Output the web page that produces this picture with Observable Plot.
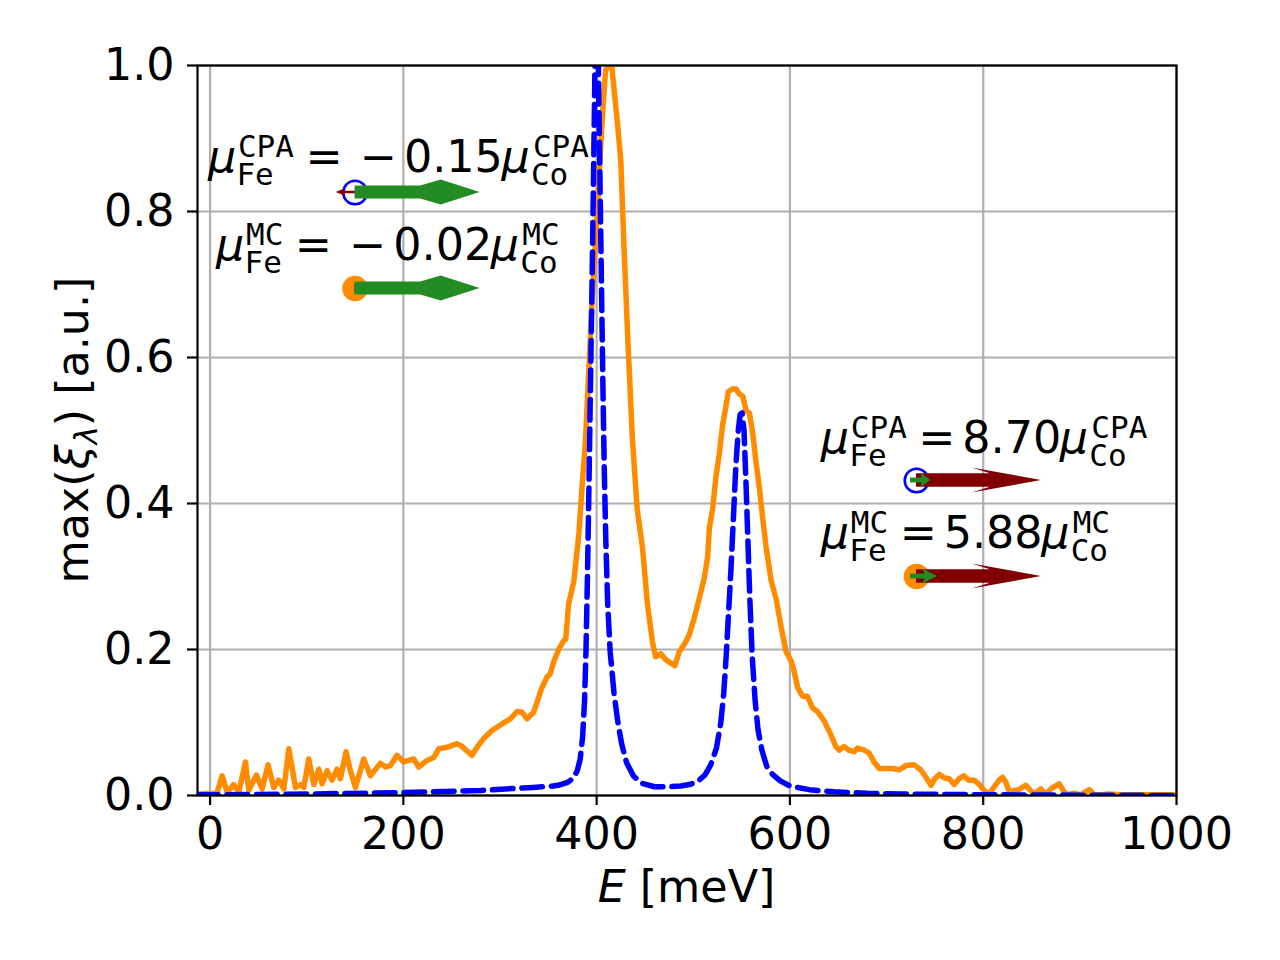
<!DOCTYPE html>
<html><head><meta charset="utf-8">
<script src="https://cdn.jsdelivr.net/npm/d3@7"></script>
<script src="https://cdn.jsdelivr.net/npm/@observablehq/plot@0.6"></script>
<style>html,body{margin:0;padding:0;background:#fff;} svg{display:block}</style>
</head><body><div id="chart"></div>
<script>
// ---- data ----
const energyMC = [-13,-10,7,12.5,17.7,24.5,29.7,36.6,40.1,48,53.9,60,65.9,71.1,76.3,81.5,88.4,93.5,97,102.1,107.3,112.5,115.9,121.1,126.3,131.4,134.9,140.7,145.2,150.4,159,165.9,176.3,181.5,186.6,193.5,200.4,205.5,210.7,215.9,224.5,231.4,236.6,245.2,255.5,260,265.9,271,276.2,283.1,291.7,302.1,310.7,317.6,322.8,328,334.8,338.3,343.5,348.6,352.1,355.5,360.7,365.9,368,371,376.5,381.7,385,388.6,392,395.5,399,402.4,405.9,409.3,412.8,415.6,418,421.5,425,428.4,432.5,437,442,447.4,452.6,457.8,461,466.4,471.6,476,481,485.5,490.7,495.8,501,506,511.4,514.9,516.6,520,523.5,527,530.4,533.9,536.3,540.8,544.3,547.7,551.2,554.7,558.1,561.6,565,568.5,571.9,575.4,580.6,585.8,591,596,601.4,604.5,608,613,618,623.4,628.6,635.5,642.4,647.6,651,656.2,661,666.6,670,677,682,687,692.4,701,707,713,720,728.6,735.5,740.7,746,750,754.5,760,764.8,770,775,780,785,790.7,796,801,806,811,816.5,820,823.5,827,832,837,844,849,852.8,859.6,864.6,870,878.6,883.7,887,894,901,909.7,914.8,922,930,942,956,1000];
const xiMC = [0.002,0.002,0.003,0.027,0.004,0.015,0.004,0.046,0.007,0.028,0.009,0.042,0.011,0.021,0.009,0.064,0.011,0.015,0.011,0.050,0.015,0.036,0.016,0.034,0.021,0.036,0.023,0.060,0.034,0.011,0.050,0.027,0.044,0.039,0.041,0.055,0.046,0.048,0.050,0.039,0.048,0.052,0.064,0.066,0.071,0.068,0.061,0.055,0.066,0.078,0.089,0.098,0.105,0.115,0.114,0.105,0.114,0.128,0.148,0.162,0.167,0.183,0.200,0.212,0.214,0.262,0.294,0.36,0.424,0.489,0.586,0.683,0.76,0.845,0.929,0.994,1.0,1.0,0.968,0.922,0.87,0.748,0.618,0.489,0.392,0.34,0.262,0.21,0.19,0.194,0.186,0.182,0.178,0.197,0.207,0.22,0.243,0.269,0.298,0.327,0.366,0.392,0.437,0.469,0.508,0.534,0.553,0.557,0.557,0.55,0.547,0.527,0.524,0.495,0.456,0.42,0.379,0.34,0.294,0.269,0.23,0.197,0.184,0.169,0.148,0.136,0.136,0.12,0.115,0.102,0.083,0.067,0.062,0.067,0.062,0.060,0.065,0.062,0.058,0.046,0.037,0.037,0.037,0.035,0.041,0.042,0.035,0.025,0.014,0.023,0.029,0.024,0.023,0.015,0.023,0.027,0.021,0.021,0.015,0.007,0.002,0.011,0.021,0.025,0.018,0.005,0.007,0.008,0.014,0.007,0.002,0.009,0.002,0.009,0.016,0.005,0.001,0.003,0.001,0.008,0.001,0.001,0.002,0.001,0.001,0.001];

const energyCPA = [-13,0,100,200,280,334,352,360,370,376,380,383,385.5,387.5,389,390.5,392,393.5,395,396.5,398,400,402,403.5,405,406.5,408,409.5,411.5,414,418,422,426,431,438,446,460,475,487,496,504.5,512,518,524,528.5,531.5,534,536.5,539,541.5,544,546.5,548.5,550.5,552.5,554.5,556.5,558.5,561,564,567,571,576,582,590,600,620,646,680,715,800,900,1000];
const xiCPA = [0.001,0.001,0.002,0.004,0.007,0.011,0.0125,0.014,0.018,0.024,0.034,0.05,0.08,0.13,0.2,0.3,0.42,0.55,0.68,0.82,0.97,1.25,0.98,0.84,0.7,0.56,0.44,0.35,0.26,0.197,0.14,0.1,0.07,0.045,0.027,0.017,0.012,0.012,0.013,0.015,0.019,0.028,0.042,0.065,0.1,0.14,0.19,0.25,0.31,0.38,0.45,0.5,0.522,0.524,0.5,0.43,0.35,0.27,0.19,0.13,0.09,0.062,0.04,0.029,0.02,0.013,0.008,0.005,0.003,0.002,0.001,0.0005,0];

const xTicks = [0,200,400,600,800,1000];
const yTicks = [0,0.2,0.4,0.6,0.8,1.0];

// moment annotations
const momentMethod = ["CPA","MC","CPA","MC"];
const momentRatio = [-0.15,-0.02,8.70,5.88];   // mu_Fe / mu_Co
const markerE = [150,150,731,731];
const markerXi = [0.826,0.6945,0.4315,0.300];
const labelE = [0.4,8.7,634.6,634.6];
const labelXi = [0.8541,0.7335,0.4685,0.3384];

// ---- styles ----
const ORANGE = "#ff8c00", BLUE = "#0000ff", GREEN = "#228b22", MAROON = "#800000";
const FS = 44.4, SFS = 31, LW = 5.5;

const mcTable = energyMC.map((e,i)=>({E:e, xi:xiMC[i]}));
const cpaTable = energyCPA.map((e,i)=>({E:e, xi:xiCPA[i]}));
const markers = markerE.map((e,i)=>({E:e, xi:markerXi[i], m:momentMethod[i]}));

const plot = Plot.plot({
  width: 1280, height: 960,
  marginLeft: 197, marginRight: 104, marginTop: 65, marginBottom: 165,
  style: {fontFamily: "DejaVu Sans", fontSize: FS + "px", background: "white", overflow: "visible"},
  x: {domain: [-13, 1000], label: null},
  y: {domain: [0, 1], label: null},
  marks: [
    Plot.gridX(xTicks, {stroke: "#b0b0b0", strokeOpacity: 1, strokeWidth: 2.2}),
    Plot.gridY(yTicks, {stroke: "#b0b0b0", strokeOpacity: 1, strokeWidth: 2.2}),
    Plot.line(mcTable, {x: "E", y: "xi", stroke: ORANGE, strokeWidth: LW, strokeLinejoin: "round", clip: true}),
    Plot.line(cpaTable, {x: "E", y: "xi", stroke: BLUE, strokeWidth: LW, strokeDasharray: "20.6,8.9", clip: true}),
    Plot.frame({stroke: "black", strokeWidth: 2.2}),
    Plot.axisX(xTicks, {tickSize: 10, tickPadding: 12, strokeWidth: 2.2, fontSize: FS, tickFormat: d => String(d), label: null}),
    Plot.axisY(yTicks, {tickSize: 10, tickPadding: 13, strokeWidth: 2.2, fontSize: FS, tickFormat: d => d.toFixed(1), label: null}),
    Plot.dot(markers.filter(d => d.m === "CPA"), {x: "E", y: "xi", r: 11.8, fill: "none", stroke: BLUE, strokeWidth: 2.6}),
    Plot.dot(markers.filter(d => d.m === "MC"), {x: "E", y: "xi", r: 12.8, fill: ORANGE, stroke: "none"})
  ]
});
document.getElementById("chart").appendChild(plot);

const xs = plot.scale("x"), ys = plot.scale("y");
const svg = d3.select(plot);

// ---- moment arrows ----
const UNIT = 125;
function shape(species, L) {
  if (L < 5) return [[0,-4.5],[-3.5,-4.5],[-7,0],[-3.5,4.5],[0,4.5]];
  if (species === "Co") {
    if (L > 40) return [[0,-6.5],[0.525*L,-6.5],[0.69*L,-12.5],[L,0],[0.69*L,12.5],[0.525*L,6.5],[0,6.5]];
    return [[-6,-2.5],[0.4*L,-2.5],[0.3*L,-7.5],[L,0],[0.3*L,7.5],[0.4*L,2.5],[-6,2.5]];
  } else {
    if (L > 40) return [[0,-6.7],[0.59*L,-6.7],[0.445*L,-12.5],[L,0],[0.445*L,12.5],[0.59*L,6.7],[0,6.7]];
    return [[-2,-1.3],[0.55*L,-1.3],[0.55*L,-3.5],[L,0],[0.55*L,3.5],[0.55*L,1.3],[-2,1.3]];
  }
}
const ag = svg.append("g");
markers.forEach((d,i) => {
  const cx = xs.apply(d.E), cy = ys.apply(d.xi);
  const r = momentRatio[i];
  const co = Math.abs(r) < 1 ? 1 : 1/Math.abs(r);
  const fe = r * co;
  [["Fe", fe, MAROON], ["Co", co, GREEN]].forEach(([sp, v, col]) => {
    const L = Math.abs(v) * UNIT, s = v < 0 ? -1 : 1;
    const pts = shape(sp, L).map(([a,b]) => [cx + s*a, cy + b]);
    ag.append("polygon").attr("points", pts.map(p => p.join(",")).join(" ")).attr("fill", col);
  });
});

// ---- annotation labels ----
const tg = svg.append("g").attr("font-family", "DejaVu Sans").attr("fill", "black").attr("text-anchor", "start");
function put(txt, x, y, size, opts={}) {
  const t = tg.append("text").attr("x", x).attr("y", y).attr("font-size", size).attr("text-anchor", "start").text(txt);
  if (opts.italic) t.attr("font-style", "italic");
  if (opts.mono) t.attr("font-family", "DejaVu Sans Mono");
  return t;
}
momentMethod.forEach((m,i) => {
  const ax = xs.apply(labelE[i]), b = ys.apply(labelXi[i]);
  const r = momentRatio[i];
  put("\u03bc", ax - 2, b, FS, {italic: true});
  put("Fe", ax + 26.5, b + 13.5, SFS, {mono: true});
  put(m, ax + 28, b - 15, SFS, {mono: true});
  const supW = 0.602 * SFS * m.length;
  const eqX = ax + 28 + supW + 11.5;
  put("=", eqX, b, FS);
  let numX;
  if (r < 0) { put("\u2212", eqX + 54, b, FS); numX = eqX + 98.5; }
  else numX = eqX + 44;
  put(Math.abs(r).toFixed(2), numX, b, FS);
  const mu2 = numX + 97.5;
  put("\u03bc", mu2, b, FS, {italic: true});
  put("Co", mu2 + 29.5, b + 13.5, SFS, {mono: true});
  put(m, mu2 + 31.5, b - 15, SFS, {mono: true});
});

// ---- axis labels ----
const xl = svg.append("text").attr("x", (197 + 1176) / 2).attr("y", 902)
  .attr("text-anchor", "middle").attr("font-size", FS).attr("font-family", "DejaVu Sans");
xl.append("tspan").attr("font-style", "italic").text("E");
xl.append("tspan").text(" [meV]");

const yl = svg.append("text").attr("transform", "translate(88,430) rotate(-90)")
  .attr("text-anchor", "middle").attr("font-size", FS).attr("font-family", "DejaVu Sans");
yl.append("tspan").text("max(");
yl.append("tspan").attr("font-style", "italic").text("\u03be");
yl.append("tspan").attr("font-style", "italic").attr("font-size", SFS).attr("dy", 9).text("\u03bb");
yl.append("tspan").attr("dy", -9).text(")");
yl.append("tspan").text(" [a.u.]");
</script>
</body></html>
